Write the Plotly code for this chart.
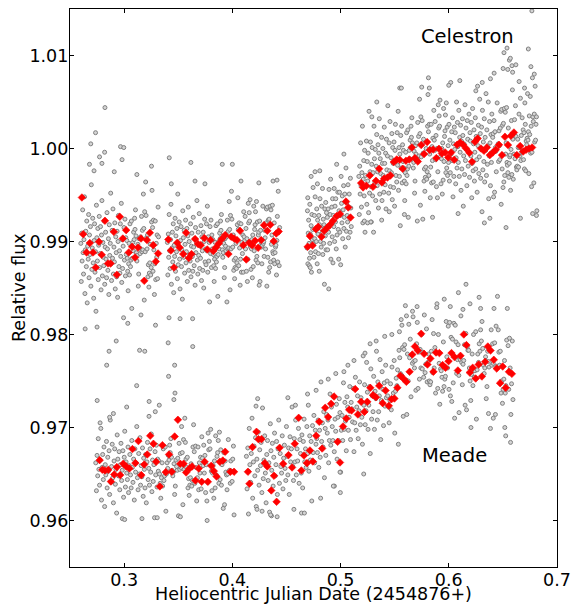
import plotly.graph_objects as go

# ---------------------------------------------------------------
# Axis ticks
x_tick_vals = [0.3, 0.4, 0.5, 0.6, 0.7]
x_tick_text = ["0.3", "0.4", "0.5", "0.6", "0.7"]
y_tick_vals = [0.96, 0.97, 0.98, 0.99, 1.00, 1.01]
y_tick_text = ["0.96", "0.97", "0.98", "0.99", "1.00", "1.01"]

# ---------------------------------------------------------------
# Raw (grey) measurements, estimated from the picture.
# x: HJD offset in units of 1e-4 d ; y: relative flux in units of 1e-4
UNIT = 1e-4

# Celestron, first block
cel1_x = [2600,2604,2608,2612,2617,2621,2625,2629,2634,2638,2642,2646,2651,2655,2659,2663,2668,2672,2676,2680,
2685,2689,2693,2697,2702,2706,2710,2714,2719,2723,2727,2731,2736,2740,2744,2748,2753,2757,2761,2765,
2770,2774,2778,2782,2787,2791,2795,2799,2804,2808,2812,2816,2821,2825,2829,2833,2838,2842,2846,2850,
2855,2859,2863,2867,2872,2876,2880,2884,2889,2893,2897,2901,2906,2910,2914,2918,2923,2927,2931,2935,
2940,2944,2948,2952,2957,2961,2965,2969,2974,2978,2982,2986,2991,2995,2999,3003,3008,3012,3016,3020,
3025,3029,3033,3037,3042,3046,3050,3054,3059,3063,3067,3071,3076,3080,3084,3088,3093,3097,3101,3105,
3110,3114,3118,3122,3127,3131,3135,3139,3144,3148,3152,3156,3161,3165,3169,3173,3178,3182,3186,3190,
3195,3199,3203,3207,3212,3216,3220,3224,3229,3233,3237,3241,3246,3250,3254,3258,3263,3267,3271,3275,
3280,3284,3288,3292,3297,3301,3305,3309,3314,3318]
cel1_y = [9898,9857,9909,9879,9934,9888,9865,9902,9948,9844,9891,9911,9873,9922,9834,9895,9881,9929,9861,9907,
9886,9916,9852,9961,9870,9893,9925,9877,9839,9901,9919,9867,9889,9825,9939,9904,9879,9914,9859,9896,
9927,9872,9887,9916,9848,9907,9944,9863,9899,9883,9874,9922,9854,9894,9910,9881,9861,9931,9892,9869,
9903,9843,9918,9885,9898,9952,9876,9858,9912,9882,9935,9865,9894,9878,9920,9849,9905,9888,9862,9911,
9840,9900,9928,9873,9890,9866,9919,9884,9941,9856,9902,9871,9895,9818,9915,9880,9924,9863,9904,9886,
9901,9882,9868,9847,9876,9898,9864,9919,9873,9880,9922,9828,9882,9899,9890,9910,9902,9925,9913,9934,
9906,9888,9879,9885,9897,9852,9865,9903,9893,9887,9905,9821,9927,9889,9912,9891,9951,9914,9837,9932,
9889,9964,9928,9904,9892,9907,9862,9875,9851,9866,9877,9897,9864,9872,9921,9955,9915,9868,9923,9891,
9843,9876,9922,9859,9898,9883,9907,9860,9937,9905]

# Celestron, second block
cel2_x = [3400,3404,3408,3412,3416,3421,3425,3429,3433,3437,3442,3446,3450,3454,3458,3463,3467,3471,3475,3479,
3484,3488,3492,3496,3500,3505,3509,3513,3517,3521,3526,3530,3534,3538,3542,3547,3551,3555,3559,3563,
3568,3572,3576,3580,3584,3589,3593,3597,3601,3605,3610,3614,3618,3622,3626,3631,3635,3639,3643,3647,
3652,3656,3660,3664,3668,3673,3677,3681,3685,3689,3694,3698,3702,3706,3710,3715,3719,3723,3727,3731,
3736,3740,3744,3748,3752,3757,3761,3765,3769,3773,3778,3782,3786,3790,3794,3799,3803,3807,3811,3815,
3820,3824,3828,3832,3836,3841,3845,3849,3853,3857,3862,3866,3870,3874,3878,3883,3887,3891,3895,3899,
3904,3908,3912,3916,3920,3925,3929,3933,3937,3941,3946,3950,3954,3958,3962,3967,3971,3975,3979,3983,
3988,3992,3996,4000,4004,4009,4013,4017,4021,4025,4030,4034,4038,4042,4046,4051,4055,4059,4063,4067,
4072,4076,4080,4084,4088,4093,4097,4101,4105,4109,4114,4118,4122,4126,4130,4135,4139,4143,4147,4151,
4156,4160,4164,4168,4172,4177,4181,4185,4189,4193,4198,4202,4206,4210,4214,4219,4223,4227,4231,4235,
4240,4244,4248,4252,4256,4261,4265,4269,4273,4277,4282,4286,4290,4294,4298,4303,4307,4311,4315,4319,
4324,4328,4332,4336,4340,4345,4349,4353,4357,4361,4366,4370,4374,4378,4382,4387,4391,4395,4399,4403,
4408,4412,4416,4420,4424,4429,4433,4437]
cel2_y = [9899,9864,9908,9883,9929,9890,9871,9902,9940,9854,9893,9910,9878,9919,9845,9896,9884,9925,9868,9906,
9889,9914,9860,9951,9875,9895,9921,9881,9849,9901,9916,9873,9891,9838,9933,9904,9883,9912,9866,9897,
9923,9877,9889,9914,9857,9906,9937,9869,9900,9886,9879,9919,9862,9895,9909,9884,9868,9926,9894,9874,
9903,9853,9915,9888,9899,9944,9880,9865,9910,9885,9930,9871,9895,9882,9917,9858,9905,9890,9869,9910,
9850,9900,9924,9878,9892,9875,9919,9890,9938,9867,9905,9879,9899,9835,9916,9887,9923,9872,9907,9892,
9902,9886,9874,9857,9881,9899,9871,9917,9878,9884,9919,9841,9886,9900,9892,9909,9903,9922,9912,9929,
9906,9891,9883,9888,9898,9861,9872,9903,9895,9890,9905,9835,9923,9892,9911,9893,9943,9913,9848,9928,
9892,9954,9924,9904,9894,9907,9869,9880,9860,9872,9882,9898,9871,9877,9918,9947,9913,9874,9920,9893,
9853,9881,9919,9867,9899,9887,9907,9867,9932,9905,9901,9927,9892,9914,9868,9903,9857,9881,9941,9920,
9931,9922,9945,9894,9870,9892,9902,9861,9907,9873,9938,9890,9913,9918,9932,9880,9943,9884,9921,9877,
9907,9910,9853,9922,9857,9912,9897,9894,9876,9896,9938,9898,9900,9884,9912,9904,9892,9920,9935,9852,
9937,9883,9923,9867,9924,9872,9938,9878,9934,9897,9907,9939,9889,9887,9880,9920,9876,9888,9894,9896,
9864,9901,9927,9878,9954,9910,9874,9915]

# Celestron, third block
cel3_x = [4690,4694,4698,4701,4705,4709,4713,4716,4720,4724,4728,4731,4735,4739,4743,4746,4750,4754,4758,4761,
4765,4769,4773,4776,4780,4784,4788,4791,4795,4799,4803,4806,4810,4814,4818,4821,4825,4829,4833,4836,
4840,4844,4848,4851,4855,4859,4863,4866,4870,4874,4878,4881,4885,4889,4893,4896,4900,4904,4908,4911,
4915,4919,4923,4926,4930,4934,4938,4941,4945,4949,4953,4956,4960,4964,4968,4971,4975,4979,4983,4986,
4990,4994,4998,5001,5005,5009,5013,5016,5020,5024,5028,5031,5035,5039,5043,5046,5050,5054,5058,5061,
5065,5069,5073,5076,5080,5084,5088,5091,5095,5099]
cel3_y = [9893,9933,9876,9909,9923,9898,9882,9940,9908,9888,9917,9867,9929,9902,9913,9958,
9898,9883,9928,9903,9948,9889,9913,9900,9935,9876,9923,9908,9887,9928,9868,9918,
9946,9900,9914,9894,9938,9909,9957,9886,9924,9898,9918,9854,9935,9906,9942,9891,
9931,9916,9926,9891,9935,9910,9956,9917,9898,9929,9967,9881,9920,9937,9905,9946,
9877,9928,9916,9957,9900,9938,9921,9946,9892,9983,9907,9927,9953,9913,9881,9933,
9953,9910,9928,9875,9970,9941,9920,9949,9903,9934,9960,9914,9926,9951,9894,9943,
9979,9911,9942,9928,9921,9961,9904,9937,9951,9926,9910,9968,9936,9916]

# Celestron, fourth block
cel4_x = [5169,5173,5177,5181,5185,5189,5193,5197,5202,5206,5210,5214,5218,5222,5226,5230,
5235,5239,5243,5247,5251,5255,5259,5263,5268,5272,5276,5280,5284,5288,5292,5296,
5301,5305,5309,5313,5317,5321,5325,5329,5334,5338,5342,5346,5350,5354,5358,5362,
5367,5371,5375,5379,5383,5387,5391,5395,5400,5404,5408,5412,5416,5420,5424,5428,
5433,5437,5441,5445,5449,5453,5457,5461,5466,5470,5474,5478,5482,5486,5490,5494,
5499,5503,5507,5511,5515,5519,5523,5527,5532,5536,5540,5544,5548,5552,5556,5560,
5565,5569,5573,5577,5581,5585,5589,5593,5598,5602,5606,5610,5614,5618,5622,5626,
5631,5635,5639,5643,5647,5651,5655,5659,5664,5668,5672,5676,5680,5684,5688,5692,
5697,5701,5705,5709,5713,5717,5721,5725,5730,5734,5738,5742,5746,5750,5754,5758,
5763,5767,5771,5775,5779,5783,5787,5791,5796,5800,5804,5808,5812,5816,5820,5824,
5829,5833,5837,5841,5845,5849,5853,5857,5862,5866,5870,5874,5878,5882,5886,5890,
5895,5899,5903,5907,5911,5915,5919,5923,5928,5932,5936,5940,5944,5948,5952,5956,
5961,5965,5969,5973,5977,5981,5985,5989,5994,5998,6002,6006,6010,6014,6018,6022,
6027,6031,6035,6039,6043,6047,6051,6055,6060,6064,6068,6072,6076,6080,6084,6088,
6093,6097,6101,6105,6109,6113,6117,6121,6126,6130,6134,6138,6142,6146,6150,6154,
6159,6163,6167,6171,6175,6179,6183,6187,6192,6196,6200,6204,6208,6212,6216,6220,
6225,6229,6233,6237,6241,6245,6249,6253,6258,6262,6266,6270,6274,6278,6282,6286,
6291,6295,6299,6303,6307,6311,6315,6319,6324,6328,6332,6336,6340,6344,6348,6352,
6357,6361,6365,6369,6373,6377,6381,6385,6390,6394,6398,6402,6406,6410,6414,6418,
6423,6427,6431,6435,6439,6443,6447,6451,6456,6460,6464,6468,6472,6476,6480,6484,
6489,6493,6497,6501,6505,6509,6513,6517,6522,6526,6530,6534,6538,6542,6546,6550,
6555,6559,6563,6567,6571,6575,6579,6583,6588,6592,6596,6600,6604,6608,6612,6616,
6621,6625,6629,6633,6637,6641,6645,6649,6654,6658,6662,6666,6670,6674,6678,6682,
6687,6691,6695,6699,6703,6707,6711,6715,6720,6724,6728,6732,6736,6740,6744,6748,
6753,6757,6761,6765,6769,6773,6777,6781,6786,6790,6794,6798,6802,6806,6810,6814]
cel4_y = [9970,9929,9981,9951,10006,9960,9937,9974,10024,9920,9967,9987,9949,9998,9910,9971,
9960,10008,9940,9986,9965,9995,9931,10040,9952,9975,10007,9959,9921,9983,10001,9949,
9974,9910,10024,9989,9964,9999,9944,9981,10015,9960,9975,10004,9936,9995,10032,9951,
9989,9973,9964,10012,9944,9984,10000,9971,9953,10023,9984,9961,9995,9935,10010,9977,
9992,10046,9970,9952,10006,9976,10029,9959,9990,9974,10016,9945,10001,9984,9958,10007,
9938,9998,10026,9971,9988,9964,10017,9982,10040,9955,10001,9970,9994,9917,10014,9979,
10024,9963,10004,9986,9998,9979,9965,9944,9974,9996,9962,10017,9971,9978,10020,9926,
9981,9998,9989,10009,10001,10024,10012,10033,10006,9988,9979,9985,9997,9952,9965,10003,
9994,9988,10006,9922,10028,9990,10013,9992,10053,10016,9939,10034,9991,10066,10030,10006,
9995,10010,9965,9978,9954,9969,9980,10000,9967,9975,10024,10058,10018,9971,10026,9994,
9947,9980,10026,9963,10002,9987,10011,9964,10041,10009,9998,10029,9988,10014,9959,10000,
9947,9975,10047,10022,10035,10024,10052,9991,9962,9989,10000,9951,10006,9966,10043,9986,
10013,10019,10036,9974,10049,9979,10023,9971,10003,9985,10026,9965,10009,9974,10071,9994,
10018,9987,10033,9948,10005,9970,10023,9999,10017,9962,9990,10050,9979,10028,10002,9985,
10041,9970,10012,9996,10025,9955,10008,9978,10032,10014,9938,9992,10005,9972,10047,9987,
10022,9999,9960,10030,10010,9981,9997,10037,9969,10017,10008,9992,10028,9947,9984,10043,
9976,10005,10020,9965,9996,10033,9978,10013,9988,9953,10067,10003,10025,9973,9991,10053,
10016,9968,10000,10023,9932,10041,9977,10007,9986,10032,9964,10012,9998,10059,9971,10020,
9983,10003,10050,9946,9992,10029,10006,9960,10015,9985,10037,9996,10012,10016,9948,10030,
9953,10018,10001,9997,9975,9999,10049,10002,10005,9986,10019,10003,9988,10022,10040,9940,
10042,9978,10025,9958,10027,9964,10043,9971,10039,9994,10006,10044,9985,9982,9974,10022,
9969,9984,9991,9993,9955,9999,10030,9972,10063,10010,9967,10016,9994,10031,9989,10046,
10013,9980,9977,9981,10010,10001,9980,10037,10001,9992,10054,9987,10014,9996,10033,9997,
10020,9988,10017,9978,10049,10026,9976,10008,10004,10011,10059,10009,10018,9973,10035,10015,
10056,9995,10024,9959,9996,10076,10034,10029,9963,10037,10007,10067,10009,10026,10034,9933]

# Celestron, scattered outliers
cel_out_x = [2823,2736,2692,2967,2997,2820,2773,2795,2981,3253,2680,2861,2750,3034,2722,2909,3118,2640,3290,
3417,3617,3907,4000,3633,3517,3415,3436,3747,4080,4245,4376,3655,4413,
4891,5031,4764,4808,4728,4786,4697,4712,4720,
6510,6538,6560,6584,6590,6545,6768,6735,6759,5547,5812,6102,6419,6502,6569,6309,6385,5562,5335,5289,
5820,6000,6250,6650,6700,6790,6620,
5220,5250,5280,5380,6329,6529,6662,6775,5850,6086,6380,5760,6810,5450,5590]
cel_out_y = [10044,10017,10005,10002,10001,9996,9991,9984,9988,9981,9983,9782,9808,9812,9976,9975,9972,9806,9810,
9990,9985,9983,9983,9817,9817,9818,9962,9962,9965,9963,9965,9965,9966,
9849,9994,9975,9976,9970,9962,9947,9874,9872,
10103,10108,10095,10089,10082,10085,10148,10107,10088,10065,10076,10073,10081,10086,10097,10071,10075,10065,10050,10034,
10065,10068,10062,10072,10065,10080,10090,
9922,9920,9921,9923,9920,9915,9925,9930,9926,9930,9925,9924,9928,9932,9929]

# Meade, first block
mea1_x = [2738,2744,2750,2756,2761,2767,2773,2779,2785,2791,2796,2802,2808,2814,2820,2826,2831,2837,
2843,2849,2855,2861,2866,2872,2878,2884,2890,2896,2901,2907,2913,2919,2925,2931,2936,2942,
2948,2954,2960,2966,2971,2977,2983,2989,2995,3001,3006,3012,3018,3024,3030,3036,3041,3047,
3053,3059,3065,3071,3076,3082,3088,3094,3100,3106,3111,3117,3123,3129,3135,3141,3146,3152,
3158,3164,3170,3176,3181,3187,3193,3199,3205,3211,3216,3222,3228,3234,3240,3246,3251,3257,
3263,3269,3275,3281,3286,3292,3298,3304,3310,3316,3321,3327,3333,3339,3345,3351,3356,3362,
3368,3374,3380,3386,3391,3397,3403,3409,3415,3421,3426,3432,3438,3444,3450,3456,3461,3467,
3473,3479,3485,3491,3496,3502,3508,3514,3520,3526,3531,3537,3543,3549,3555,3561,3566,3572,
3578,3584,3590,3596,3601,3607,3613,3619,3625,3631,3636,3642,3648,3654,3660,3666,3671,3677,
3683,3689,3695,3701,3706,3712,3718,3724,3730,3736,3741,3747,3753,3759,3765,3771,3776,3782,
3788,3794,3800,3806,3811,3817,3823,3829,3835,3841,3846,3852,3858,3864,3870,3876,3881,3887,
3893,3899,3905,3911,3916,3922,3928,3934,3940,3946,3951,3957,3963,3969,3975,3981,3986,3992,
3998,4004,4010,4016]
mea1_y = [9662,9632,9670,9648,9688,9655,9638,9665,9699,9622,9657,9671,9644,9679,9615,9660,9649,9685,9635,9668,
9653,9675,9628,9708,9641,9658,9682,9646,9619,9664,9677,9639,9655,9608,9692,9666,9648,9674,9633,9660,
9683,9643,9654,9675,9625,9668,9696,9636,9663,9651,9644,9679,9630,9659,9671,9649,9635,9686,9657,9641,
9666,9622,9677,9652,9662,9701,9646,9633,9672,9650,9689,9638,9659,9647,9678,9626,9667,9655,9635,9671,
9619,9663,9684,9644,9656,9638,9677,9652,9693,9631,9665,9642,9660,9603,9674,9649,9681,9636,9666,9653,
9664,9650,9640,9624,9646,9662,9637,9677,9643,9648,9679,9610,9650,9662,9656,9670,9665,9681,9673,9688,
9668,9654,9648,9652,9661,9628,9637,9665,9658,9654,9667,9605,9683,9655,
9672,9657,9701,9673,9617,9687,9655,9710,9684,9666,9657,9668,9635,9645,9627,9638,9646,9661,9637,9643,
9679,9703,9674,9640,9680,9657,9621,9646,9679,9633,9662,9651,9668,
9634,9690,9667,9659,9681,9651,9670,9630,9660,9621,9641,9694,9676,9685,9677,9698,9653,9632,9651,9659,
9624,9664,9635,9691,9649,9669,9673,9686,9640,9695,9644,9676,9638,
9660,9663,9613,9673,9617,9664,9652,9649,9633,9650,9687,9653,9654,9640,9664,9653,9642,9666,9680,9606]

# Meade, second block
mea2_x = [4130,4136,4143,4149,4156,4162,4169,4175,4182,4188,4195,4201,4208,4214,4221,4227,
4234,4240,4247,4253,4260,4266,4273,4279,4286,4292,4299,4305,4312,4318,4325,4331,
4338,4344,4351,4357,4364,4370,4377,4383,4390,4396,4403,4409,4416,4422,4429,4435,
4442,4448,4455,4461,4468,4474,4481,4487,4494,4500,4507,4513,4520,4526,4533,4539,
4546,4552,4559,4565,4572,4578,4585,4591,4598,4604,4611,4617,4624,4630,4637,4643,
4650,4656,4663,4669,4676,4682,4689,4695,4702,4708,4715,4721,4728,4734,4741,4747,
4754,4760,4767,4773,4780,4786,4793,4799,4806,4812,4819,4825,4832,4838,4845,4851,
4858,4864,4871,4877,4884,4890,4897,4903,4910,4916,4923,4929,4936,4942,4949,4955,
4962,4968,4975,4981,4988,4994,5001,5007,5014,5020,5027,5033,5040,5046,5053,5059,
5066,5072,5079,5085,5092,5098,5105,5111,5118,5124,5131,5137,5144,5150,5157,5163,
5170,5176,5183,5189,5196,5202,5209,5215,5222,5228,5235,5241,5248,5254,5261,5267,
5274,5280,5287,5293,5300,5306,5313,5319,5326,5332,5339,5345,5352,5358,5365,5371,
5378,5384,5391,5397,5404,5410,5417,5423,5430,5436,5443,5449,5456,5462,5469,5475,
5482,5488,5495,5501,5508,5514,5521,5527,5534,5540,5547,5553,5560,5566,5573,5579,
5586,5592,5599,5605,5612,5618,5625,5631,5638,5644,5651,5657,5664,5670,5677,5683,
5690,5696,5703,5709,5716,5722,5729,5735,5742,5748,5755,5761,5768,5774,5781,5787,
5794,5800,5807,5813,5820,5826,5833,5839,5846,5852,5859,5865,5872,5878,5885,5891,
5898,5904,5911,5917,5924,5930,5937,5943,5950,5956,5963,5969,5976,5982,5989,5995,
6002,6008,6015,6021,6028,6034,6041,6047,6054,6060,6067,6073,6080,6086,6093,6099,
6106,6112,6119,6125,6132,6138,6145,6151,6158,6164,6171,6177,6184,6190,6197,6203,
6210,6216,6223,6229,6236,6242,6249,6255,6262,6268,6275,6281,6288,6294,6301,6307,
6314,6320,6327,6333,6340,6346,6353,6359,6366,6372,6379,6385,6392,6398,6405,6411,
6418,6424,6431,6437,6444,6450,6457,6463,6470,6476,6483,6489,6496,6502,6509,6515,
6522,6528,6535,6541,6548,6554,6561,6567,6574,6580,6587,6593]
mea2_y = [9669,9634,9678,9653,9699,9660,9641,9672,9710,9624,9663,9680,9648,9689,9615,9666,
9654,9695,9638,9676,9659,9684,9630,9721,9645,9665,9691,9651,9619,9671,9686,9643,
9662,9609,9704,9675,9654,9683,9637,9668,9694,9648,9660,9685,9628,9677,9708,9640,
9672,9658,9651,9691,9634,9667,9681,9656,9643,9701,9669,9649,9678,9628,9690,9663,
9677,9722,9658,9643,9688,9663,9708,9649,9677,9664,9699,9640,9687,9672,9651,9692,
9635,9685,9709,9663,9677,9657,9701,9672,9724,9653,9691,9665,9685,9621,9702,9673,
9713,9662,9697,9682,9688,9673,9708,9657,9697,9668,9749,9685,9705,9679,9717,9646,
9699,9670,9714,9694,9708,9662,9686,9736,9681,9722,9701,9686,9733,9674,9709,9696,
9725,9666,9711,9686,9731,9716,9652,9697,9713,9686,9748,9698,9727,9707,9675,9733,
9722,9697,9711,9744,9687,9727,9720,9706,9742,9674,9705,9754,9697,9722,9734,9688,
9718,9749,9703,9732,9711,9682,9777,9724,9746,9703,9718,9770,9738,9698,9724,9744,
9672,9763,9709,9734,9717,9755,9698,9739,9731,9782,9708,9749,9717,9734,9773,9687,
9729,9760,9741,9702,9748,9723,9767,9732,9750,9734,9722,9705,9729,9747,9719,9765,
9731,9737,9772,9694,9739,9753,9745,9762,9682,9783,9775,9758,9816,9756,9786,9712,
9784,9789,9831,9751,9714,9779,9750,9811,9775,9795,9733,9778,9769,9819,9771,9764,
9772,9740,9790,9813,9742,9781,9752,9784,9764,9800,9763,9781,9754,9821,9759,9768,
9806,9749,9770,9779,9750,9746,9749,9782,9816,9759,9801,9764,9786,9737,9780,9833,
9742,9800,9769,9725,9763,9761,9754,9739,9792,9744,9752,9755,9814,9776,9764,9809,
9741,9813,9734,9797,9728,9795,9748,9812,9710,9810,9792,9758,9773,9789,9756,9775,
9773,9820,9770,9746,9768,9772,9789,9724,9801,9719,9787,9783,9783,9764,9750,9729,
9757,9779,9745,9800,9754,9761,9803,9709,9762,9779,9770,9790,9782,9805,9793,9814,
9785,9767,9758,9764,9776,9731,9744,9782,9771,9765,9783,9699,9805,9767,9790,9769,
9828,9791,9714,9809,9766,9841,9805,9781,9767,9782,9737,9750,9726,9741,9752,9772,
9737,9745,9794,9828,9788,9741,9796,9764,9714,9747,9793,9730]

# Meade, scattered outliers
mea_out_x = [2839,2927,3143,3191,3116,3407,3411,3467,3470,3460,3634,2751,3231,2866,2901,3024,3288,
2984,3165,3306,3767,3230,3325,2778,3005,3520,
6159,6089,6280,5958,5888,6014,5707,6196,5408,5474,5544,5567,5609,6131,6294,5665,
4219,4234,4513,4583,4695,4774,4886,4956,5031,5068,5124,5226,5273,5329,
4362,4414,4639,4666,4943,4995,4998,5214,6095,6205,6367,6411,6518,6526,6571,
4149,4228,4275,4354,4569,4816,4933]
mea_out_y = [9767,9793,9783,9782,9745,9791,9755,9767,9737,9730,9787,9729,9728,9711,9715,9722,9717,
9602,9602,9603,9600,9712,9724,9705,9601,9604,
9854,9845,9840,9838,9829,9830,9830,9833,9798,9800,9803,9810,9820,9827,9828,9825,
9723,9731,9732,9724,9736,9740,9752,9758,9760,9767,9772,9780,9790,9793,
9605,9604,9608,9608,9637,9652,9630,9650,9716,9700,9715,9710,9700,9691,9684,
9607,9612,9610,9606,9612,9624,9637]

# ---------------------------------------------------------------
# Binned (red) points
celestron_bin_x = [
0.2610,0.2622,0.2653,0.2683,0.2713,0.2738,0.2768,0.2793,0.2823,0.2851,0.2875,0.2905,0.2933,0.2960,0.2988,
0.3019,0.3043,0.3074,0.3101,0.3129,0.3156,0.3186,0.3211,0.3238,0.3269,0.3293,0.3314,
0.3409,0.3433,0.3461,0.3491,0.3513,0.3546,0.3573,0.3598,0.3623,0.3656,0.3683,0.3708,0.3741,0.3769,0.3799,
0.3824,0.3848,0.3875,0.3903,0.3934,0.3964,0.3989,0.4016,0.4043,0.4071,0.4101,0.4129,0.4156,0.4183,0.4211,
0.4238,0.4266,0.4293,0.4323,0.4351,0.4382,0.4406,0.4428,
0.4696,0.4717,0.4741,0.4772,0.4794,0.4824,0.4849,0.4879,0.4903,0.4931,0.4964,0.4995,0.5050,0.5071,0.5092,
0.5190,0.5208,0.5238,0.5270,0.5300,0.5327,0.5357,0.5382,0.5403,0.5434,0.5461,0.5492,0.5519,0.5547,0.5574,
0.5604,0.5635,0.5659,0.5687,0.5714,0.5745,0.5772,0.5800,0.5824,0.5855,0.5885,0.5909,0.5937,0.5967,0.5995,
0.6022,0.6050,0.6077,0.6105,0.6132,0.6160,0.6190,0.6215,0.6242,0.6267,0.6297,0.6325,0.6352,0.6380,0.6407,
0.6434,0.6464,0.6492,0.6519,0.6547,0.6574,0.6602,0.6629,0.6660,0.6688,0.6715,0.6742,0.6770,
]
celestron_bin_y = [
0.99473,0.99079,0.98882,0.98983,0.98882,0.98720,0.98997,0.98857,0.99223,0.98763,0.98763,0.99104,0.98642,0.99266,0.99032,
0.99122,0.98882,0.98943,0.98828,0.98935,0.99032,0.98577,0.99015,0.99094,0.98961,0.98785,0.98871,
0.99022,0.98903,0.98720,0.98986,0.98935,0.98865,0.99094,0.98822,0.98865,0.99026,0.98972,0.98961,0.99037,0.98914,0.99015,
0.98897,0.98935,0.98978,0.99026,0.99069,0.98865,0.99051,0.99032,0.99015,0.99115,0.98961,0.98806,0.98986,0.98961,0.99008,
0.98932,0.99015,0.99176,0.99115,0.99180,0.99004,0.99086,0.99108,
0.98943,0.99058,0.98957,0.99133,0.99158,0.99051,0.99115,0.99151,0.99180,0.99223,0.99273,0.99295,0.99430,0.99366,0.99258,
0.99628,0.99581,0.99599,0.99710,0.99588,0.99653,0.99782,0.99634,0.99677,0.99688,0.99710,0.99854,0.99882,0.99878,0.99782,
0.99868,0.99882,1.00011,0.99897,0.99860,1.00037,0.99940,1.00069,0.99983,0.99989,0.99897,0.99997,0.99946,0.99957,0.99903,
0.99957,0.99878,1.00040,1.00065,1.00040,1.00000,0.99954,0.99857,1.00072,1.00108,1.00000,0.99975,1.00011,0.99929,0.99957,
0.99986,1.00040,0.99929,1.00126,1.00037,1.00137,1.00172,0.99929,1.00026,0.99968,0.99986,1.00000,1.00011,
]

meade_bin_x = [
0.2774,0.2799,0.2823,0.2854,0.2878,0.2909,0.2933,0.2964,0.2992,0.3019,0.3049,0.3077,0.3104,0.3132,0.3159,
0.3186,0.3214,0.3241,0.3271,0.3296,0.3330,0.3354,0.3385,0.3415,0.3440,0.3467,0.3497,0.3519,0.3550,0.3573,
0.3604,0.3628,0.3659,0.3689,0.3717,0.3744,0.3774,0.3805,0.3829,0.3854,0.3884,0.3912,0.3934,0.3982,0.4016,
0.4144,0.4158,0.4186,0.4223,0.4241,0.4269,0.4300,0.4323,0.4360,0.4385,0.4409,0.4437,0.4470,0.4519,
0.4552,0.4577,0.4613,0.4638,0.4662,0.4690,0.4717,0.4744,0.4775,0.4803,0.4830,0.4858,0.4885,0.4913,0.4940,
0.4973,0.4995,0.5023,0.5053,0.5080,0.5101,0.5135,0.5160,0.5190,0.5220,0.5247,0.5275,0.5300,0.5327,0.5357,
0.5389,0.5416,0.5446,0.5471,0.5498,0.5525,0.5553,0.5580,0.5608,0.5638,0.5663,0.5687,0.5714,0.5745,0.5772,
0.5803,0.5830,0.5858,0.5882,0.5913,0.5943,0.5970,0.5998,0.6025,0.6053,0.6084,0.6108,0.6139,0.6163,0.6194,
0.6221,0.6249,0.6276,0.6306,0.6336,0.6361,0.6386,0.6416,0.6443,0.6474,0.6498,0.6526,0.6556,0.6583,
]
meade_bin_y = [
0.96649,0.96545,0.96538,0.96545,0.96419,0.96495,0.96574,0.96488,0.96610,0.96581,0.96559,0.96768,0.96617,0.96854,0.96488,
0.96602,0.96710,0.96911,0.96825,0.96631,0.96366,0.96810,0.96520,0.96710,0.96524,0.96903,0.97083,0.96610,0.96610,0.96516,
0.96559,0.96581,0.96430,0.96559,0.96416,0.96631,0.96416,0.96588,0.96531,0.96473,0.96631,0.96645,0.96739,0.96524,0.96524,
0.96524,0.96395,0.96789,0.96954,0.96875,0.96875,0.96617,0.96581,0.96323,0.96481,0.96201,0.96782,0.96610,0.96703,
0.96570,0.96825,0.97104,0.96538,0.96699,0.96617,0.96753,0.96634,0.96911,0.97061,0.96774,0.97212,0.97112,0.97255,0.97333,
0.96846,0.96624,0.97011,0.97097,0.97190,0.97183,0.97413,0.97140,0.97276,0.97168,0.97276,0.97427,0.97348,0.97326,0.97448,
0.97262,0.97398,0.97233,0.97305,0.97312,0.97427,0.97556,0.97527,0.97491,0.97599,0.97785,0.97871,0.97828,0.98008,0.97792,
0.97677,0.97742,0.97599,0.97806,0.97800,0.97671,0.97642,0.97713,0.97800,0.97757,0.97613,0.97771,0.98000,0.97886,0.97591,
0.97642,0.97527,0.97677,0.97548,0.97706,0.97871,0.97828,0.97728,0.97634,0.97477,0.97656,0.97427,0.97599,0.97577,
]

labels = ["Celestron", "Meade"]
label_x = [0.5727, 0.5732]
label_y = [1.0120, 0.9670]

x_title = "Heliocentric Julian Date (2454876+)"
y_title = "Relative flux"


def scaled(xs, ys):
    n = min(len(xs), len(ys))
    return [v * UNIT for v in xs[:n]], [v * UNIT for v in ys[:n]]


def pair(xs, ys):
    n = min(len(xs), len(ys))
    return xs[:n], ys[:n]


FONT = "DejaVu Sans"

grey_x, grey_y = [], []
for xs, ys in [(cel1_x, cel1_y), (cel2_x, cel2_y), (cel3_x, cel3_y), (cel4_x, cel4_y),
               (cel_out_x, cel_out_y), (mea1_x, mea1_y), (mea2_x, mea2_y),
               (mea_out_x, mea_out_y)]:
    a, b = scaled(xs, ys)
    grey_x += a
    grey_y += b

fig = go.Figure()
fig.add_trace(go.Scatter(
    x=grey_x, y=grey_y, mode="markers",
    marker=dict(symbol="circle", size=4, color="#d4d4d4",
                line=dict(color="#808080", width=1)),
    hoverinfo="skip", showlegend=False))

for bxs, bys in [(celestron_bin_x, celestron_bin_y), (meade_bin_x, meade_bin_y)]:
    bx, by = pair(bxs, bys)
    fig.add_trace(go.Scatter(
        x=bx, y=by, mode="markers",
        marker=dict(symbol="diamond", size=5.8, color="#ff0000",
                    line=dict(color="#ff0000", width=0.6)),
        showlegend=False))

axis_common = dict(
    ticks="inside", ticklen=4, tickwidth=1, tickcolor="black",
    showline=True, linecolor="black", linewidth=1.2, mirror="ticks",
    showgrid=False, zeroline=False, ticklabelstandoff=-3,
    tickfont=dict(family=FONT, size=17.5, color="black"),
)

fig.update_xaxes(range=[0.25, 0.70], tickmode="array",
                 tickvals=x_tick_vals, ticktext=x_tick_text, **axis_common)
fig.update_yaxes(range=[0.955, 1.015], tickmode="array",
                 tickvals=y_tick_vals, ticktext=y_tick_text, **axis_common)

annotations = []
for t, xv, yv in zip(labels, label_x, label_y):
    annotations.append(dict(x=xv, y=yv, xref="x", yref="y", text=t,
                            showarrow=False, xanchor="left", yanchor="middle",
                            font=dict(family=FONT, size=19.5, color="black")))
annotations.append(dict(x=0.5, y=0, xref="paper", yref="paper", text=x_title,
                        showarrow=False, xanchor="center", yanchor="top", yshift=-16,
                        borderpad=0,
                        font=dict(family=FONT, size=17.5, color="black")))
annotations.append(dict(x=0, y=0.5, xref="paper", yref="paper", text=y_title,
                        showarrow=False, xanchor="center", yanchor="middle", xshift=-51,
                        textangle=-90, borderpad=0,
                        font=dict(family=FONT, size=17.5, color="black")))

fig.update_layout(
    width=579, height=604,
    margin=dict(l=70, r=17, t=8, b=37),
    paper_bgcolor="white", plot_bgcolor="white",
    showlegend=False,
    annotations=annotations,
    font=dict(family=FONT, color="black"),
)

fig.write_html("out.html", config={"displayModeBar": False},
               post_script="document.body.style.margin='0px';document.body.style.padding='0px';")
